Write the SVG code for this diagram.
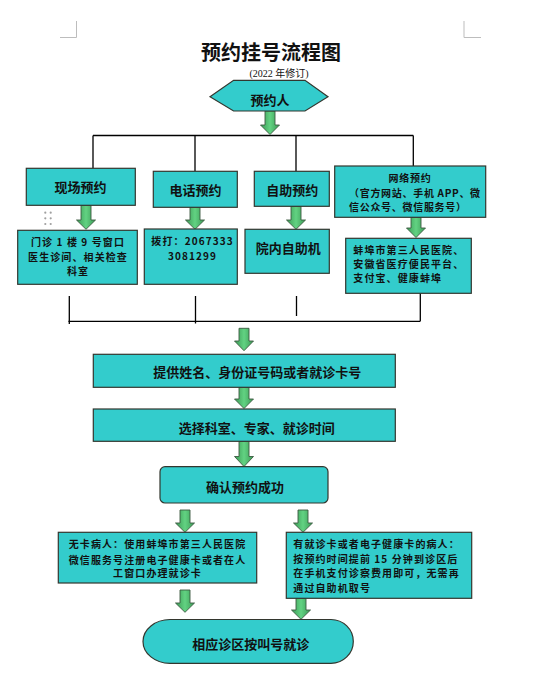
<svg xmlns="http://www.w3.org/2000/svg" width="545" height="689" viewBox="0 0 545 689">
<defs>
<linearGradient id="g" x1="0" y1="0" x2="1" y2="0">
<stop offset="0" stop-color="#3a9a55"/>
<stop offset="0.5" stop-color="#62d282"/>
<stop offset="1" stop-color="#3a9a55"/>
</linearGradient>
<style>
.box{fill:#33CCCC;stroke:#33362e;stroke-width:1.2}
.arr{fill:url(#g);stroke:#3c5a42;stroke-width:0.9}
.ln{stroke:#000;stroke-width:1.3;fill:none}
.mk{stroke:#bdbdbd;stroke-width:1;fill:none}
text{font-family:"Noto Sans CJK SC","Liberation Sans",sans-serif;font-weight:bold;fill:#111;dominant-baseline:central}
.c{text-anchor:middle}
.t13{font-size:13px}
.t11{font-size:10px;letter-spacing:1.1px}
.t10{font-size:10px;letter-spacing:0.7px}
</style>
</defs>
<rect width="545" height="689" fill="#fff"/>
<g id="marks">
<path class="mk" d="M60,37.5H76.5V21M464,21V37.5H481"/>
<g fill="#a0a0a0"><circle cx="45.3" cy="212.7" r="1.1"/><circle cx="50.7" cy="212.7" r="1.1"/><circle cx="45.3" cy="218.3" r="1.1"/><circle cx="50.7" cy="218.3" r="1.1"/><circle cx="45.3" cy="224" r="1.1"/><circle cx="50.7" cy="224" r="1.1"/></g>
</g>
<g id="title">
<text class="c" x="271" y="51.7" style="font-size:20px">预约挂号流程图</text>
<text class="c" x="279" y="73.5" style="font-size:10px;font-weight:normal;font-family:'Liberation Serif','Noto Sans CJK SC',serif">(2022 年修订)</text>
</g>
<g id="connectors">
<path class="ln" d="M93,135.5H413.3M93,135.5V168.3M195,135.5V171.3M296,135.5V171.3M413.3,135.5V166"/>
<path class="ln" d="M68.3,321.3H420.3M69.3,296V324M195.5,296V323.5M296.5,296V316M420.3,293.3V321.3"/>
<path class="arr" d="M265,111H275V125H279.5L270,134.5L260.5,125H265Z"/>
<path class="arr" d="M81,205.3H91V220H95.5L86,229.3L76.5,220H81Z"/>
<path class="arr" d="M190,207.3H200V220H204.5L195,229.3L185.5,220H190Z"/>
<path class="arr" d="M291,206.3H301V220H305.5L296,229.3L286.5,220H291Z"/>
<path class="arr" d="M411,217.3H421V228H425.5L416,237.5L406.5,228H411Z"/>
<path class="arr" d="M239,328.3H249V341H253.5L244,350.7L234.5,341H239Z"/>
<path class="arr" d="M239,387.3H249V399H253.5L244,408.5L234.5,399H239Z"/>
<path class="arr" d="M239,441.3H249V456.5H253.5L244,466.5L234.5,456.5H239Z"/>
<path class="arr" d="M180,510H190V523H194.5L185,532.3L175.5,523H180Z"/>
<path class="arr" d="M298,510H308V523H312.5L303,532.3L293.5,523H298Z"/>
<path class="arr" d="M180,590H190V603H194.5L185,612.3L175.5,603H180Z"/>
<path class="arr" d="M296,598.3H306V610H310.5L301,619.3L291.5,610H296Z"/>
</g>
<g id="n-start">
<polygon class="box" points="210,96.7 233.6,80.3 305,80.3 328,96.7 305,111 233.6,111"/>
<text class="c t13" x="270" y="99">预约人</text>
</g>
<g id="n-onsite">
<rect class="box" x="26.3" y="168.3" width="109" height="37"/>
<text class="c t13" x="80.5" y="186.7">现场预约</text>
</g>
<g id="n-phone">
<rect class="box" x="153.3" y="171.3" width="84" height="36"/>
<text class="c t13" x="195.5" y="189.3">电话预约</text>
</g>
<g id="n-self">
<rect class="box" x="254.3" y="171.3" width="75" height="35"/>
<text class="c t13" x="292.3" y="189.5">自助预约</text>
</g>
<g id="n-online">
<rect class="box" x="334.7" y="166" width="151" height="51.3"/>
<text class="c t10" x="410" y="177.7">网络预约</text>
<text class="t10" x="349" y="192.3">（官方网站、手机 APP、微</text>
<text class="t10" x="349" y="206">信公众号、微信服务号）</text>
</g>
<g id="n-onsite-detail">
<rect class="box" x="17.7" y="230.3" width="119.6" height="54"/>
<text class="c t11" x="78" y="241">门诊 1 楼 9 号窗口</text>
<text class="c t11" x="78" y="256">医生诊间、相关检查</text>
<text class="c t11" x="78" y="270">科室</text>
</g>
<g id="n-phone-detail">
<rect class="box" x="144.3" y="229" width="93" height="55.3"/>
<text class="c t11" x="192.5" y="240">拨打：2067333</text>
<text class="c t11" x="192.5" y="255.3">3081299</text>
</g>
<g id="n-self-detail">
<rect class="box" x="245" y="229.3" width="84.3" height="44"/>
<text class="c t13" x="288.3" y="247.3">院内自助机</text>
</g>
<g id="n-online-detail">
<rect class="box" x="345.7" y="238.3" width="125.6" height="55"/>
<text class="t11" x="353.3" y="249">蚌埠市第三人民医院、</text>
<text class="t11" x="353.3" y="263.3">安徽省医疗便民平台、</text>
<text class="t11" x="353.3" y="277.7">支付宝、健康蚌埠</text>
</g>
<g id="n-info">
<rect class="box" x="93.3" y="354.3" width="302" height="33"/>
<text class="c t13" x="257.3" y="371.5">提供姓名、身份证号码或者就诊卡号</text>
</g>
<g id="n-select">
<rect class="box" x="93.3" y="409" width="302" height="32.3"/>
<text class="c t13" x="256.7" y="427">选择科室、专家、就诊时间</text>
</g>
<g id="n-confirm">
<rect class="box" x="160" y="466.7" width="168" height="36.3" rx="5"/>
<text class="c t13" x="245" y="486.5">确认预约成功</text>
</g>
<g id="n-nocard">
<rect class="box" x="58.3" y="532.3" width="198.4" height="50.7"/>
<text class="c t11" x="157.5" y="543.3">无卡病人：使用蚌埠市第三人民医院</text>
<text class="c t11" x="157.5" y="559">微信服务号注册电子健康卡或者在人</text>
<text class="c t11" x="157.5" y="572.7">工窗口办理就诊卡</text>
</g>
<g id="n-card">
<rect class="box" x="286.3" y="532.3" width="185.4" height="66"/>
<text class="t11" x="293.3" y="543.3">有就诊卡或者电子健康卡的病人：</text>
<text class="t11" x="293.3" y="558.3">按预约时间提前 15 分钟到诊区后</text>
<text class="t11" x="293.3" y="572.7">在手机支付诊察费用即可，无需再</text>
<text class="t11" x="293.3" y="587.3">通过自助机取号</text>
</g>
<g id="n-end">
<path class="box" d="M170,619.5H331A22.3,21.9 0 0 1 331,663.3H170A27,21.9 0 0 1 170,619.5Z"/>
<text class="c t13" x="250.8" y="643.5">相应诊区按叫号就诊</text>
</g>
</svg>
